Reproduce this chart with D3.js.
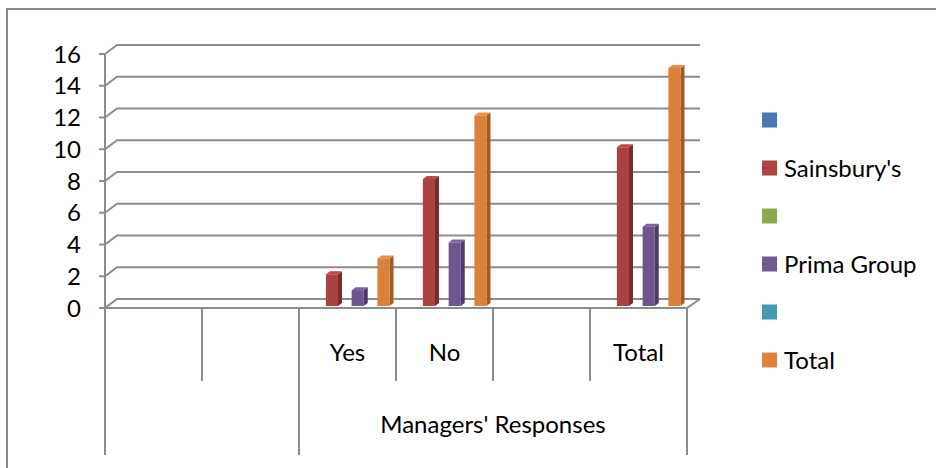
<!DOCTYPE html>
<html>
<head>
<meta charset="utf-8">
<script src="https://cdn.jsdelivr.net/npm/d3@7/dist/d3.min.js"></script>
<style>
  html, body { margin: 0; padding: 0; background: #fff; }
  svg { display: block; }
  text { font-family: Lato, "Liberation Sans", sans-serif; fill: #000; }
</style>
</head>
<body>
<svg id="chart" width="936" height="468"></svg>
<script>
// Category slots along the horizontal axis (blank slots are empty rows)
const categories = ["", "", "Yes", "No", "", "Total"];
const groupLabel = "Managers' Responses";

// Series (blank-named series carry no values)
const seriesNames = ["", "Sainsbury's", "", "Prima Group", "", "Total"];
const blankA      = [null, null, null, null, null, null];
const sainsburys  = [null, null, 2, 8, null, 10];
const blankB      = [null, null, null, null, null, null];
const primaGroup  = [null, null, 1, 4, null, 5];
const blankC      = [null, null, null, null, null, null];
const totals      = [null, null, 3, 12, null, 15];

const yTicks = [0, 2, 4, 6, 8, 10, 12, 14, 16];

const seriesValues = [blankA, sainsburys, blankB, primaGroup, blankC, totals];

// Face colours per series: legend swatch, front, side, top
const palette = [
  { key: "#4A78B0", front: "#4A78B0", side: "#355782", top: "#5686C0" },
  { key: "#AC4442", front: "#AA4240", side: "#782D2C", top: "#B94A47" },
  { key: "#8CA950", front: "#8CA950", side: "#657A39", top: "#9BBB59" },
  { key: "#725893", front: "#6F5590", side: "#4D3B66", top: "#7D62A0" },
  { key: "#4299B2", front: "#4299B2", side: "#2F6F82", top: "#4BACC6" },
  { key: "#DF833C", front: "#DC8139", side: "#A25C22", top: "#EA9048" }
];

const svg = d3.select("#chart");

// Outer chart-area border
svg.append("rect")
  .attr("x", 7).attr("y", 9)
  .attr("width", 960).attr("height", 480)
  .attr("fill", "none")
  .attr("stroke", "#8a8a8a").attr("stroke-width", 2);

// Plot geometry (front plane of the floor and the back wall offset)
const x0 = 105, x1 = 687;
const depthX = 12, depthY = 9;
const backRight = 700;

const x = d3.scaleBand().domain(d3.range(categories.length)).range([x0, x1]);
const xs = d3.scaleBand().domain(d3.range(seriesNames.length))
  .range([13, 89.5]).paddingInner(0.06);

// Value scale on the front plane
const y = d3.scaleLinear().domain([0, 16]).range([308, 54]);

const grid = svg.append("g")
  .attr("fill", "none")
  .attr("stroke", "#8c8c8c")
  .attr("stroke-width", 2);

// Back-wall gridlines with their diagonal return to the value axis
yTicks.forEach(t => {
  const yf = y(t);
  const pts = [[x0, yf], [x0 + depthX, yf - depthY], [backRight, yf - depthY]];
  grid.append("path").attr("d", d3.line()(pts));
});

// Floor front edge and right return
grid.append("path").attr("d", d3.line()([[x0 - 6, y(0)], [x1, y(0)], [backRight, y(0) - depthY]]));

// Value axis line and tick marks
grid.append("line").attr("x1", x0).attr("x2", x0).attr("y1", y(16)).attr("y2", 455);
yTicks.forEach(t => {
  grid.append("line").attr("x1", x0 - 6).attr("x2", x0).attr("y1", y(t)).attr("y2", y(t));
});

// Category dividers: short ones between categories, long ones around the group
const longIdx = new Set([0, 2, 6]);
d3.range(categories.length + 1).forEach(i => {
  const xp = i < categories.length ? x(i) : x1;
  grid.append("line")
    .attr("x1", xp).attr("x2", xp)
    .attr("y1", y(0)).attr("y2", longIdx.has(i) ? 455 : 381);
});

// Value tick labels
svg.append("g").selectAll("text")
  .data(yTicks).join("text")
  .attr("x", 81).attr("y", d => y(d))
  .attr("dy", "0.36em")
  .attr("text-anchor", "end")
  .attr("font-size", 24)
  .text(d => d);

// Category labels
svg.append("g").selectAll("text")
  .data(categories).join("text")
  .attr("x", (d, i) => x(i) + x.bandwidth() / 2)
  .attr("y", 352)
  .attr("dy", "0.36em")
  .attr("text-anchor", "middle")
  .attr("font-size", 24)
  .text(d => d);

svg.append("text")
  .attr("x", (x(2) + x1) / 2)
  .attr("y", 424)
  .attr("dy", "0.36em")
  .attr("text-anchor", "middle")
  .attr("font-size", 24)
  .text(groupLabel);

// 3D columns
const barDX = 4, barDY = 3, barShiftX = 1, barShiftY = 2;
const bars = svg.append("g");
seriesValues.forEach((vals, s) => {
  vals.forEach((v, c) => {
    if (v == null) return;
    const left = x(c) + xs(s) + barShiftX;
    const w = xs.bandwidth();
    const base = y(0) - barShiftY;
    const top = y(v) - barShiftY;
    const col = palette[s];
    bars.append("path")
      .attr("d", d3.line()([[left + w, top], [left + w + barDX, top - barDY],
        [left + w + barDX, base - barDY], [left + w, base]]) + "Z")
      .attr("fill", col.side);
    bars.append("path")
      .attr("d", d3.line()([[left, top], [left + barDX, top - barDY],
        [left + w + barDX, top - barDY], [left + w, top]]) + "Z")
      .attr("fill", col.top);
    bars.append("rect")
      .attr("x", left).attr("y", top)
      .attr("width", w).attr("height", base - top)
      .attr("fill", col.front);
  });
});

// Legend
const legend = svg.append("g");
seriesNames.forEach((name, i) => {
  const cy = 120 + i * 48;
  legend.append("rect")
    .attr("x", 762).attr("y", cy - 7.5)
    .attr("width", 15).attr("height", 15)
    .attr("fill", palette[i].key);
  legend.append("text")
    .attr("x", 784).attr("y", cy)
    .attr("dy", "0.36em")
    .attr("font-size", 24)
    .text(name);
});
</script>
</body>
</html>
